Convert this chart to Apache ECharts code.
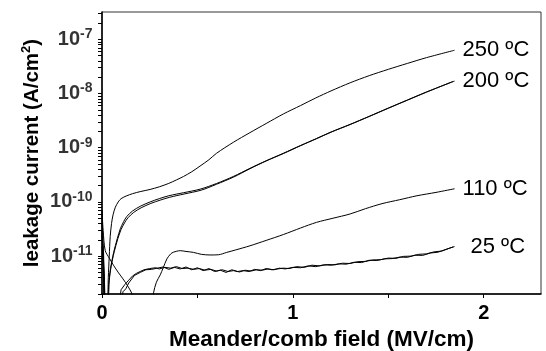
<!DOCTYPE html>
<html><head><meta charset="utf-8">
<script src="https://cdn.jsdelivr.net/npm/echarts@6/dist/echarts.min.js"></script>
<style>html,body{margin:0;padding:0;background:#fff}#c{width:546px;height:351px}</style>
</head><body><div id="c"></div>
<script>
// x: field (MV/cm), y: leakage current (A/cm^2)
const curve250 = [[0,4e-11],[0.008,1.2e-11],[0.016,1e-12],[0.027,1e-12],[0.033,4e-12],[0.038,1e-11],[0.043,2.3e-11],[0.05,4e-11],[0.058,5.8e-11],[0.07,8e-11],[0.085,1e-10],[0.1,1.15e-10],[0.13,1.3e-10],[0.16,1.42e-10],[0.2,1.55e-10],[0.252,1.7e-10],[0.3,1.9e-10],[0.35,2.2e-10],[0.39,2.55e-10],[0.427,2.95e-10],[0.47,3.6e-10],[0.514,4.6e-10],[0.56,6.0e-10],[0.6,7.9e-10],[0.688,1.26e-9],[0.775,1.9e-9],[0.86,2.8e-9],[0.95,4.2e-9],[1.04,6.0e-9],[1.12,8.3e-9],[1.2,1.12e-8],[1.3,1.58e-8],[1.4,2.14e-8],[1.5,2.8e-8],[1.6,3.6e-8],[1.7,4.6e-8],[1.847,6.3e-8]];
const curve200a = [[0,2.5e-11],[0.01,6e-12],[0.018,1e-12],[0.028,1e-12],[0.035,3e-12],[0.045,6e-12],[0.061,1.17e-11],[0.08,2.1e-11],[0.096,3.2e-11],[0.113,4.3e-11],[0.13,5.4e-11],[0.16,6.8e-11],[0.2,8.3e-11],[0.252,1.0e-10],[0.3,1.15e-10],[0.35,1.3e-10],[0.427,1.48e-10],[0.514,1.72e-10],[0.6,2.19e-10],[0.688,2.95e-10],[0.775,4.17e-10],[0.86,5.75e-10],[0.95,7.9e-10],[1.04,1.1e-9],[1.124,1.48e-9],[1.2,1.95e-9],[1.3,2.7e-9],[1.4,3.8e-9],[1.5,5.4e-9],[1.6,7.6e-9],[1.7,1.07e-8],[1.847,1.7e-8]];
const curve200b = [[0,1.5e-11],[0.012,4e-12],[0.02,1e-12],[0.03,1e-12],[0.038,3.5e-12],[0.048,6.5e-12],[0.064,1.2e-11],[0.083,2.1e-11],[0.1,3.1e-11],[0.118,4.1e-11],[0.136,5.1e-11],[0.166,6.4e-11],[0.205,7.8e-11],[0.256,9.4e-11],[0.305,1.08e-10],[0.355,1.22e-10],[0.43,1.4e-10],[0.52,1.65e-10],[0.6,2.12e-10],[0.69,2.88e-10],[0.775,4.1e-10],[0.86,5.7e-10],[0.95,7.8e-10],[1.04,1.09e-9],[1.124,1.47e-9],[1.2,1.94e-9],[1.3,2.68e-9],[1.4,3.78e-9],[1.5,5.35e-9],[1.6,7.55e-9],[1.7,1.06e-8],[1.84,1.68e-8]];
const curve110 = [[0,7e-11],[0.006,3e-11],[0.017,1.26e-11],[0.04,9e-12],[0.06,6.8e-12],[0.087,4.9e-12],[0.11,3.8e-12],[0.135,2.8e-12],[0.157,2.0e-12],[0.175,1e-12],[0.26,1e-12],[0.27,2.1e-12],[0.285,3.3e-12],[0.305,4.5e-12],[0.32,6e-12],[0.34,8.9e-12],[0.36,1.1e-11],[0.374,1.18e-11],[0.41,1.26e-11],[0.44,1.22e-11],[0.48,1.17e-11],[0.52,1.08e-11],[0.566,1.05e-11],[0.61,1.06e-11],[0.653,1.17e-11],[0.7,1.3e-11],[0.775,1.55e-11],[0.86,1.95e-11],[0.95,2.5e-11],[1.04,3.3e-11],[1.124,4.2e-11],[1.21,5.0e-11],[1.3,6.0e-11],[1.38,7.5e-11],[1.467,9.3e-11],[1.56,1.1e-10],[1.65,1.3e-10],[1.75,1.5e-10],[1.847,1.75e-10]];
const curve25a = [[0,7e-11],[0.004,1.5e-11],[0.008,3e-12],[0.011,1e-12],[0.085,1e-12],[0.1,2.4e-12],[0.12,3.0e-12],[0.14,3.6e-12],[0.16,4.3e-12],[0.18,4.8e-12],[0.2,5.2e-12],[0.22,5.6e-12],[0.25,5.9e-12],[0.28,6.1e-12],[0.3,5.8e-12],[0.33,6.2e-12],[0.36,6.0e-12],[0.39,6.4e-12],[0.42,5.9e-12],[0.45,6.0e-12],[0.48,5.7e-12],[0.51,5.9e-12],[0.54,5.5e-12],[0.57,5.7e-12],[0.6,5.3e-12],[0.63,5.6e-12],[0.66,5.2e-12],[0.69,5.4e-12],[0.72,5.1e-12],[0.75,5.5e-12],[0.78,5.3e-12],[0.81,5.6e-12],[0.84,5.5e-12],[0.87,5.8e-12],[0.9,5.6e-12],[0.93,6.0e-12],[0.96,5.8e-12],[1.0,6.2e-12],[1.04,6.1e-12],[1.08,6.6e-12],[1.12,6.4e-12],[1.16,6.9e-12],[1.2,6.8e-12],[1.24,7.2e-12],[1.28,7.1e-12],[1.32,7.7e-12],[1.36,7.6e-12],[1.4,8.4e-12],[1.44,8.3e-12],[1.48,8.9e-12],[1.52,9.0e-12],[1.56,9.6e-12],[1.6,9.5e-12],[1.64,1.04e-11],[1.68,1.03e-11],[1.72,1.14e-11],[1.76,1.18e-11],[1.8,1.32e-11],[1.84,1.48e-11]];
const curve25b = [[0,3e-11],[0.006,8e-12],[0.012,2e-12],[0.014,1e-12],[0.095,1e-12],[0.11,2.2e-12],[0.125,2.5e-12],[0.14,3.2e-12],[0.17,4.4e-12],[0.2,5.0e-12],[0.23,5.6e-12],[0.26,5.7e-12],[0.29,6.0e-12],[0.32,6.3e-12],[0.35,5.7e-12],[0.38,6.2e-12],[0.41,5.8e-12],[0.44,6.3e-12],[0.47,5.6e-12],[0.5,6.1e-12],[0.53,5.4e-12],[0.56,5.9e-12],[0.59,5.2e-12],[0.62,5.5e-12],[0.65,5.0e-12],[0.68,5.6e-12],[0.71,5.2e-12],[0.74,5.4e-12],[0.77,5.2e-12],[0.8,5.7e-12],[0.83,5.4e-12],[0.86,5.9e-12],[0.89,5.6e-12],[0.92,5.8e-12],[0.95,6.0e-12],[0.98,5.9e-12],[1.02,6.4e-12],[1.06,6.2e-12],[1.1,6.8e-12],[1.14,6.6e-12],[1.18,7.0e-12],[1.22,6.9e-12],[1.26,7.4e-12],[1.3,7.3e-12],[1.34,7.9e-12],[1.38,8.0e-12],[1.42,8.5e-12],[1.46,8.6e-12],[1.5,9.2e-12],[1.54,9.1e-12],[1.58,9.9e-12],[1.62,1.0e-11],[1.66,1.08e-11],[1.7,1.1e-11],[1.74,1.2e-11],[1.78,1.24e-11],[1.82,1.4e-11],[1.847,1.5e-11]];

const xTickValues = [0, 0.5, 1, 1.5, 2];
const xLabelValues = [0, 1, 2];
const yLabelValues = [1e-11, 1e-10, 1e-9, 1e-8, 1e-7];
const yMin = 2e-12, yMax = 3.2e-7;
const labels = {t250: '250 ºC', t200: '200 ºC', t110: '110 ºC', t25: '25 ºC'};

const yTickValues = [];
for (let e = -12; e <= -7; e++) {
  for (let m = 1; m <= 9; m++) {
    const v = m * Math.pow(10, e);
    if (v >= yMin && v <= yMax) yTickValues.push(v);
  }
}

const FONT = 'Liberation Sans, Arial, sans-serif';
const chart = echarts.init(document.getElementById('c'), null, {renderer: 'canvas'});

function lineSeries(name, data, label, dist, smooth) {
  return {
    name: name, type: 'line', data: data, showSymbol: false, smooth: smooth,
    clip: true, silent: true,
    lineStyle: {color: '#000', width: 1},
    endLabel: label ? {show: true, formatter: label, color: '#000', fontSize: 22,
      fontFamily: FONT, distance: dist} : {show: false}
  };
}

// decade tick labels, placed at x = 0 on the log axis through the library's scales
const yLabelSeries = {
  name: 'yLabels', type: 'scatter', data: yLabelValues.map(v => [0, v]),
  symbol: 'circle', symbolSize: 1, silent: true, clip: false, z: 10,
  itemStyle: {color: 'rgba(0,0,0,0)'},
  label: {
    show: true, position: 'left', distance: 9, color: '#000',
    formatter: function (p) { return '{a|10}{b|' + Math.round(Math.log10(p.value[1])) + '}'; },
    rich: {
      a: {fontSize: 20, fontWeight: 'bold', fontFamily: FONT, color: '#000', lineHeight: 24},
      b: {fontSize: 14, fontWeight: 'bold', fontFamily: FONT, color: '#000', verticalAlign: 'top', lineHeight: 14}
    }
  },
  labelLayout: {hideOverlap: false}
};

chart.setOption({
  animation: false,
  backgroundColor: '#fff',
  grid: {left: 102, right: 5, top: 12, bottom: 57, show: true, borderColor: '#333', borderWidth: 1,
    containLabel: false, outerBoundsMode: 'none'},
  xAxis: {
    type: 'value', min: 0, max: 2.3, interval: 0.5,
    axisLine: {lineStyle: {color: '#000', width: 1.5}},
    axisTick: {show: true, length: 4, customValues: xTickValues, lineStyle: {color: '#000', width: 1}},
    axisLabel: {customValues: xLabelValues, fontSize: 20, fontWeight: 'bold', color: '#000', fontFamily: FONT, margin: 9},
    splitLine: {show: false},
    name: 'Meander/comb field (MV/cm)', nameLocation: 'middle', nameGap: 34, nameMoveOverlap: false,
    nameTextStyle: {fontSize: 22.5, fontWeight: 'bold', color: '#000', fontFamily: FONT}
  },
  yAxis: {
    type: 'log', min: yMin, max: yMax, position: 'left',
    axisLine: {lineStyle: {color: '#000', width: 1.5}},
    axisTick: {show: true, length: 4, customValues: yTickValues, lineStyle: {color: '#000', width: 1}},
    axisLabel: {show: false},
    splitLine: {show: false},
    name: '{n|leakage current (A/cm}{s|2}{n|)}', nameLocation: 'middle', nameGap: 58, nameMoveOverlap: false,
    nameTextStyle: {
      rich: {
        n: {fontSize: 20.5, fontWeight: 'bold', fontFamily: FONT, color: '#000', lineHeight: 24},
        s: {fontSize: 13, fontWeight: 'bold', fontFamily: FONT, color: '#000', verticalAlign: 'top', lineHeight: 13}
      }
    }
  },
  series: [
    lineSeries('250', curve250, labels.t250, 8, 0.3),
    lineSeries('200a', curve200a, labels.t200, 8, 0.3),
    lineSeries('200b', curve200b, null, 8, 0.3),
    lineSeries('110', curve110, labels.t110, 8, 0.3),
    lineSeries('25a', curve25a, null, 8, false),
    lineSeries('25b', curve25b, labels.t25, 16, false),
    yLabelSeries
  ]
});
</script></body></html>
